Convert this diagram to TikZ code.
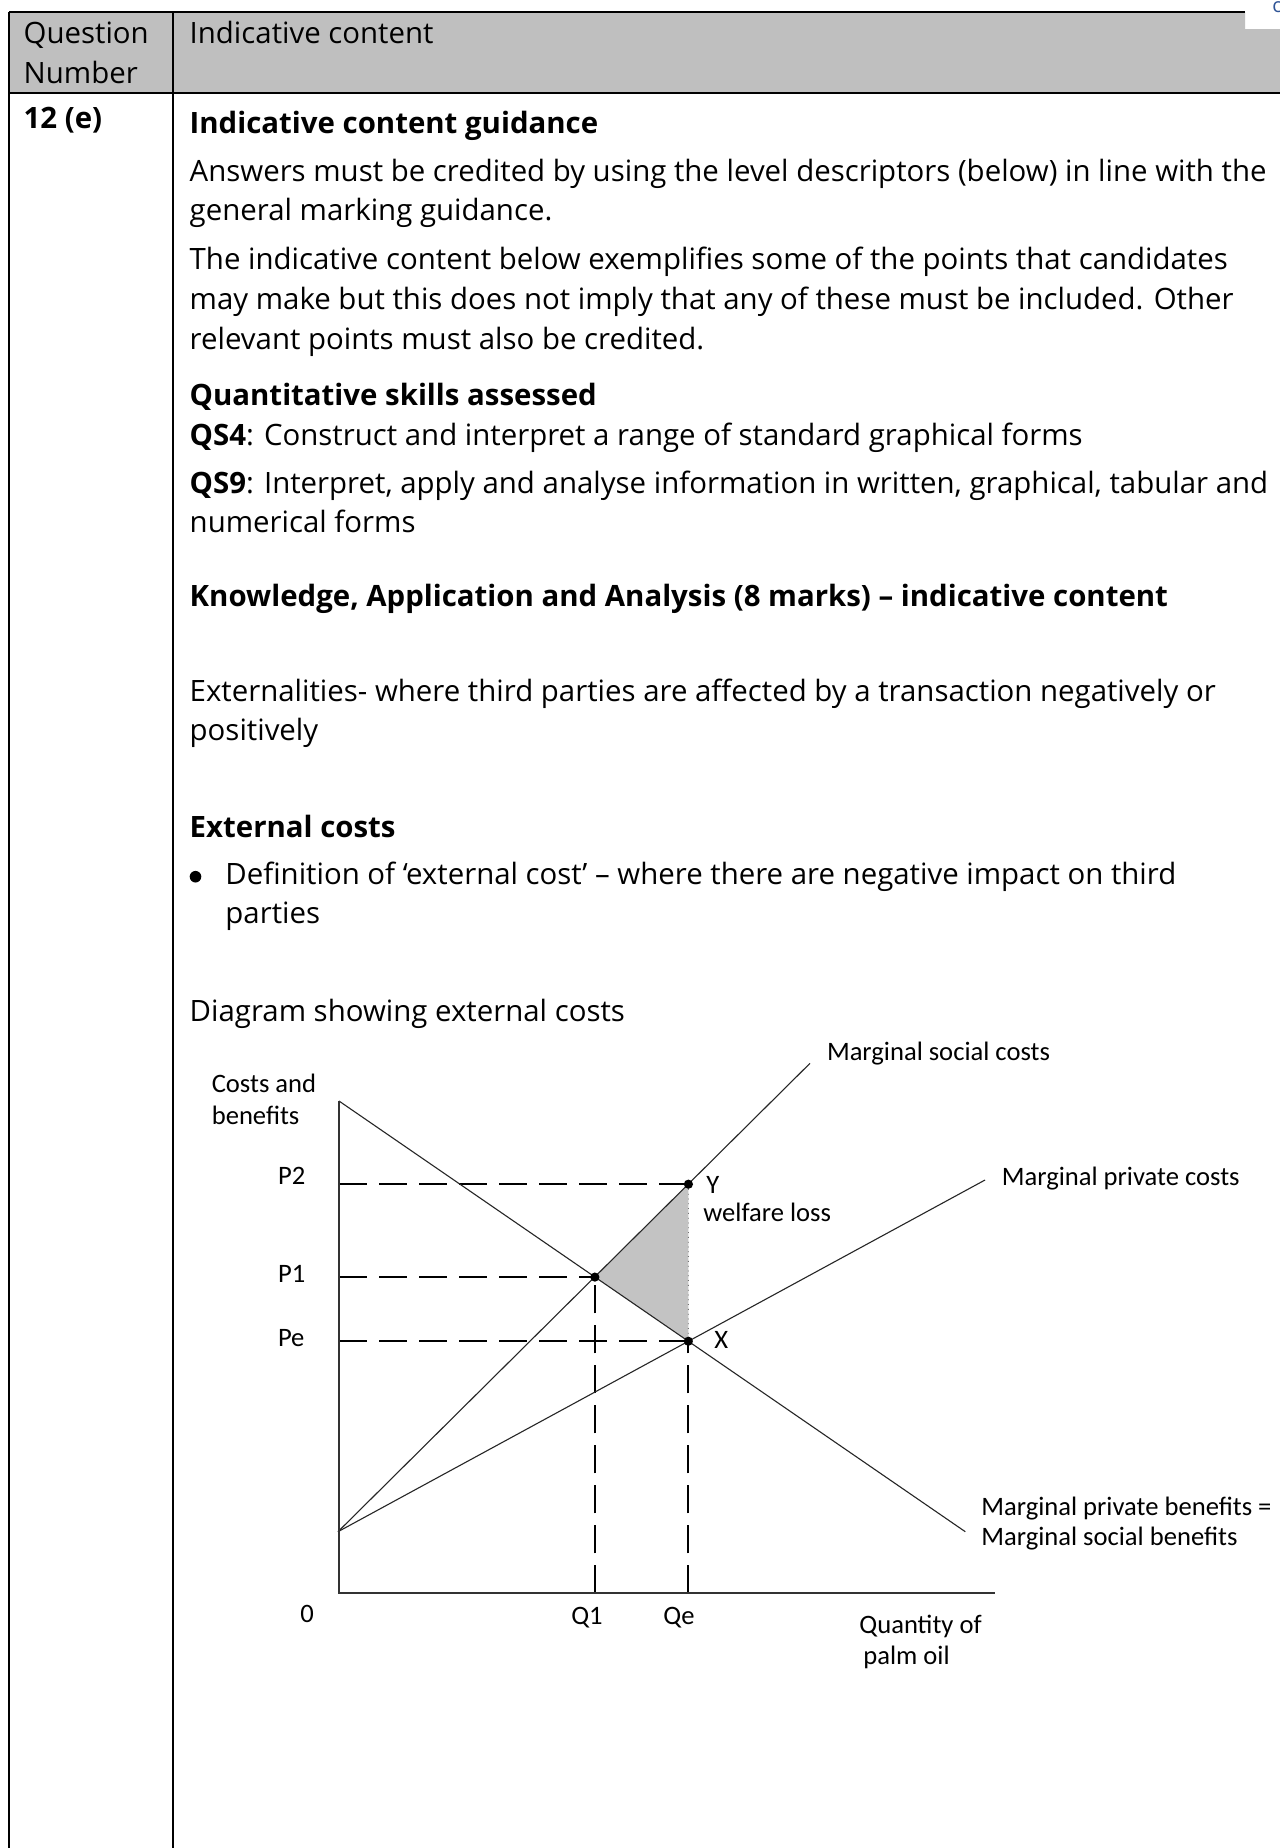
\documentclass[tikz,border=0pt]{standalone}
\usepackage{fontspec}
\setmainfont{Open Sans}
\newfontfamily\calibrifont{Carlito}
\usetikzlibrary{calc}
\newcommand{\bodyfont}{\fontsize{14.7}{20}\selectfont}
\newcommand{\chartfont}{\calibrifont\fontsize{13.3}{16}\selectfont}
\definecolor{headgrey}{RGB}{191,191,191}
\definecolor{lossgrey}{RGB}{195,195,195}
\definecolor{linkblue}{RGB}{47,84,150}
\tikzset{
	every node/.style={
		font=\bodyfont,
		inner sep=0pt
	},
	txt/.style={anchor=base west},
	lbl/.style={anchor=base west, font=\chartfont},
	tick/.style={anchor=base, font=\chartfont},
	dot/.style={circle, fill=black, minimum size=4.6pt, inner sep=0pt},
	curve/.style={line width=0.55pt, black!85},
	axis/.style={line width=1pt, black!80},
	guide/.style={line width=0.9pt, dash pattern=on 14pt off 6pt},
	border/.style={line width=1pt}
}

\begin{document}
\begin{tikzpicture}[x=0.5pt, y=-0.5pt]
	\useasboundingbox (0,0) rectangle (1280,1848);
	\fill[white] (0,0) rectangle (1280,1848);
	
	% table frame
	\fill[headgrey] (9,12) -- (1245,12) -- (1245,29) -- (1280,29) -- (1280,92.7) -- (9,92.7) -- cycle;
	\draw[border] (9,12) -- (1245,12);
	\draw[border] (9,92.7) -- (1280,92.7);
	\draw[border] (9,11.5) -- (9,1848);
	\draw[border] (173.3,11.5) -- (173.3,1848);
	\node[txt, text=linkblue, font=\fontsize{10}{12}\selectfont] (corner) at (1272,12) {c};
	
	\node[txt] (qhead) at (23.3,43.3) {Question};
	\node[txt] (nhead) at (23.3,83.3) {Number};
	\node[txt] (ihead) at (189.3,43.3) {Indicative content};
	\node[txt, font=\bodyfont\bfseries] (qnum) at (23.3,128.5) {12 (e)};
	
	% right column text
	\node[txt, font=\bodyfont\bfseries] (guide) at (189.3,133.5) {Indicative content guidance};
	\foreach \y/\t [count=\i] in {
			181.7/{Answers must be credited by using the level descriptors (below) in line with the},
			220.7/{general marking guidance.},
			269.3/{The indicative content below exemplifies some of the points that candidates},
			309/{may make but this does not imply that any of these must be included. Other},
			349/{relevant points must also be credited.}
		} {
		\node[txt] (para\i) at (189.3,\y) {\t};
	}
	\node[txt, font=\bodyfont\bfseries] (qskills) at (189.3,405) {Quantitative skills assessed};
	\node[txt] (qs4) at (189.3,445) {\textbf{QS4}: Construct and interpret a range of standard graphical forms};
	\node[txt] (qs9) at (189.3,493.3) {\textbf{QS9}: Interpret, apply and analyse information in written, graphical, tabular and};
	\node[txt] (qs9b) at (189.3,532.7) {numerical forms};
	\node[txt, font=\bodyfont\bfseries] (kaa) at (189.3,606) {Knowledge, Application and Analysis (8 marks) – indicative content};
	\node[txt] (ext1) at (189.3,701.7) {Externalities- where third parties are affected by a transaction negatively or};
	\node[txt] (ext2) at (189.3,740) {positively};
	\node[txt, font=\bodyfont\bfseries] (extcost) at (189.3,837.3) {External costs};
	\node[circle, fill=black, minimum size=5.8pt] (bullet) at (195.5,876.7) {};
	\node[txt] (def1) at (225,884) {Definition of ‘external cost’ – where there are negative impact on third};
	\node[txt] (def2) at (225,923.3) {parties};
	\node[txt] (diag) at (189.3,1021.7) {Diagram showing external costs};
	
	% chart
	\coordinate (o) at (339,1593.3);
	\coordinate (dtop) at (339,1101);
	\coordinate (dend) at (965.3,1531.7);
	\coordinate (orig) at (338,1531.7);
	\coordinate (msc) at (810,1063.3);
	\coordinate (mpc) at (985,1180);
	\coordinate (xend) at (995,1593.3);
	
	\coordinate (e1) at (intersection of dtop--dend and orig--msc);
	\coordinate (xe) at (intersection of dtop--dend and orig--mpc);
	\coordinate (q1) at (e1 |- o);
	\coordinate (qe) at (xe |- o);
	\coordinate (ye) at (intersection of orig--msc and xe--qe);
	\coordinate (p2) at (o |- ye);
	\coordinate (p1) at (o |- e1);
	\coordinate (pe) at (o |- xe);
	
	\fill[lossgrey] (ye) -- (e1) -- (xe) -- cycle;
	\draw[dotted, line width=0.4pt, black!55] (ye) -- (xe);
	
	\draw[guide] (p2) -- (ye);
	\draw[guide] (p1) -- (e1);
	\draw[guide] (pe) -- (xe);
	\draw[guide] (q1) -- (e1);
	\draw[guide] (qe) -- (xe);
	
	\draw[curve] (dtop) -- (dend);
	\draw[curve] (orig) -- (msc);
	\draw[curve] (orig) -- (mpc);
	\draw[axis] (dtop) -- (o) -- (xend);
	
	\node[dot] (ptE) at (e1) {};
	\node[dot] (ptX) at (xe) {};
	\node[dot] (ptY) at (ye) {};
	
	\node[lbl] (lmsc) at (826.6,1060.7) {Marginal social costs};
	\node[lbl] (lmpc) at (1001.5,1185) {Marginal private costs};
	\node[lbl] (lmpb) at (981,1515) {Marginal private benefits =};
	\node[lbl] (lmsb) at (981,1545.7) {Marginal social benefits};
	\node[lbl] (cost1) at (211.4,1092.3) {Costs and};
	\node[lbl] (cost2) at (211.4,1124.3) {benefits};
	\node[lbl] (lp2) at (277.6,1184) {P2};
	\node[lbl] (lp1) at (277.6,1282) {P1};
	\node[lbl] (lpe) at (277.6,1346.7) {Pe};
	\node[lbl] (ly) at (706,1193) {Y};
	\node[lbl] (lx) at (714,1348) {X};
	\node[lbl] (loss) at (703,1221.7) {welfare loss};
	\node[tick] (l0) at (307,1622) {0};
	\node[tick] (lq1) at (587,1624) {Q1};
	\node[tick] (lqe) at (679,1624) {Qe};
	\node[lbl] (qty1) at (859,1633.3) {Quantity of};
	\node[lbl] (qty2) at (863,1664) {palm oil};
\end{tikzpicture}
\end{document}
